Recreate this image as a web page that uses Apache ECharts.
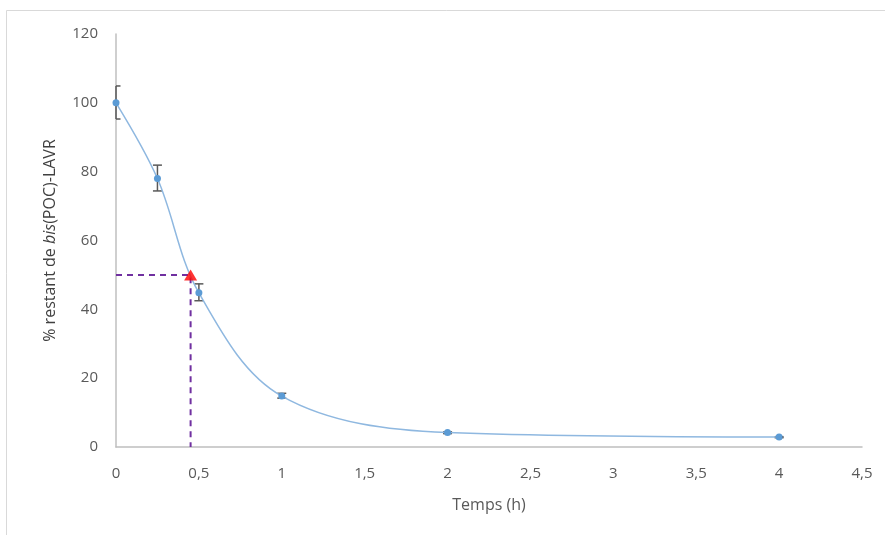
<!DOCTYPE html>
<html>
<head>
<meta charset="utf-8">
<script src="https://cdn.jsdelivr.net/npm/echarts@6/dist/echarts.min.js"></script>
<style>
  html, body { margin: 0; padding: 0; background: #fff; }
  #chart { width: 885px; height: 535px; }
</style>
</head>
<body>
<div id="chart"></div>
<script>
// temps (h) et % restant
var temps = [0, 0.25, 0.5, 1, 2, 4];
var restant = [100, 78, 44.8, 14.8, 4.2, 2.9];
// barres d'erreur (bas, haut)
var errBas = [95.3, 74.4, 42.5, 14.2, 3.9, 2.7];
var errHaut = [104.9, 81.9, 47.4, 15.6, 4.4, 3.0];
// demi-vie
var t50 = [0.45, 50];

var chart = echarts.init(document.getElementById('chart'));

var pts = temps.map(function (t, i) { return [t, restant[i]]; });
var errData = temps.map(function (t, i) { return [t, errBas[i], errHaut[i]]; });

var option = {
    backgroundColor: '#fff',
    animation: false,
    textStyle: { fontFamily: 'Open Sans' },
    graphic: [{
        type: 'rect',
        shape: { x: 6.5, y: 10.5, width: 900, height: 600 },
        style: { fill: 'none', stroke: '#d9d9d9', lineWidth: 1 },
        silent: true
    }],
    grid: { left: 116, right: 23, top: 34, bottom: 88 },
    xAxis: {
        type: 'value',
        min: 0, max: 4.5, interval: 0.5,
        name: 'Temps (h)',
        nameLocation: 'middle',
        nameGap: 50,
        nameTextStyle: { color: '#595959', fontSize: 16 },
        axisLine: { lineStyle: { color: '#bfbfbf', width: 1.5 } },
        axisTick: { show: false },
        splitLine: { show: false },
        axisLabel: {
            color: '#595959', fontSize: 15, margin: 19,
            formatter: function (v) { return String(v).replace('.', ','); }
        }
    },
    yAxis: {
        type: 'value',
        min: 0, max: 120, interval: 20,
        name: '{a|% restant de }{b|bis}{a|(POC)-LAVR}',
        nameLocation: 'middle',
        nameGap: 58,
        nameRotate: 90,
        nameTextStyle: {
            rich: {
                a: { color: '#404040', fontSize: 16 },
                b: { color: '#404040', fontSize: 16, fontStyle: 'italic' }
            }
        },
        axisLine: { show: true, lineStyle: { color: '#bfbfbf', width: 1.5 } },
        axisTick: { show: false },
        splitLine: { show: false },
        axisLabel: { color: '#595959', fontSize: 15, margin: 18 }
    },
    series: [{
        type: 'line',
        data: pts,
        smooth: 0.35,
        symbol: 'circle',
        symbolSize: 7,
        itemStyle: { color: '#5b9bd5' },
        lineStyle: { color: '#8fb8e0', width: 1.5 },
        z: 3
    }, {
        type: 'custom',
        data: errData,
        renderItem: function (params, api) {
            var lo = api.coord([api.value(0), api.value(1)]);
            var hi = api.coord([api.value(0), api.value(2)]);
            var w = 4.5;
            var x0 = Math.max(lo[0] - w, params.coordSys.x);
            var st = { stroke: '#595959', lineWidth: 1.5, fill: 'none' };
            return {
                type: 'group',
                children: [
                    { type: 'line', shape: { x1: lo[0], y1: lo[1], x2: hi[0], y2: hi[1] }, style: st },
                    { type: 'line', shape: { x1: x0, y1: lo[1], x2: lo[0] + w, y2: lo[1] }, style: st },
                    { type: 'line', shape: { x1: x0, y1: hi[1], x2: hi[0] + w, y2: hi[1] }, style: st }
                ]
            };
        },
        z: 2
    }, {
        type: 'line',
        data: [[0, t50[1]], t50, [t50[0], 0]],
        symbol: 'none',
        lineStyle: { color: '#7030a0', width: 2, type: [6, 5] },
        z: 1
    }, {
        type: 'scatter',
        data: [t50],
        symbol: 'triangle',
        symbolSize: [13, 11],
        itemStyle: { color: '#ff0000' },
        z: 4
    }]
};
chart.setOption(option);
</script>
</body>
</html>
